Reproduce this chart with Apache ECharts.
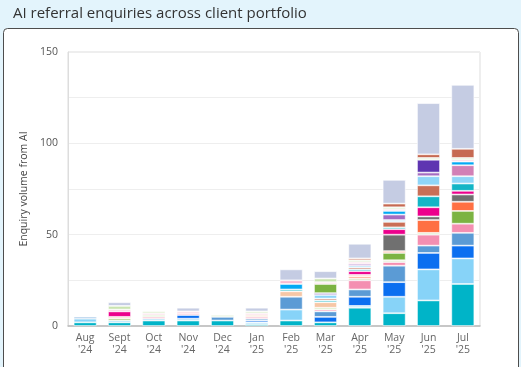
<!DOCTYPE html>
<html>
<head>
<meta charset="utf-8">
<script src="https://cdn.jsdelivr.net/npm/echarts@6/dist/echarts.min.js"></script>
<style>
html,body{margin:0;padding:0;background:#e3f4fc;}
#c{width:521px;height:367px;}
</style>
</head>
<body>
<div id="c"></div>
<script>
// Categories (months)
const months = ["Aug\n'24","Sept\n'24","Oct\n'24","Nov\n'24","Dec\n'24","Jan\n'25","Feb\n'25","Mar\n'25","Apr\n'25","May\n'25","Jun\n'25","Jul\n'25"];
const yTicks = [0, 50, 100, 150];

// Series values (Aug '24 .. Jul '25), stacked bottom to top
const teal    = [2,2,3,3,3,1,3,2,10,7,14,23];
const sky     = [2,1,1,1,0,1,6,0,1,9,17,14];
const royal   = [0,0,0,2,0,1,0,3,5,8,9,7];
const steel   = [1,0,0,0,2,1,7,3,4,9,4,7];
const pink    = [0,0,1,1,0,1,0,1,5,2,6,5];
const sage    = [0,0,1,0,0,0,0,1,1,1,1,0];
const green   = [0,1,0,0,0,0,0,0,0,4,0,7];
const orange  = [0,0,0,0,0,0,0,0,1,1,7,5];
const peach   = [0,1,0,0,0,1,3,3,1,0,0,0];
const grey    = [0,0,0,0,0,0,0,0,0,9,2,4];
const magenta = [0,3,0,0,0,0,0,0,2,3,5,2];
const teal2   = [0,0,0,0,0,0,1,1,1,1,6,4];
const brown   = [0,0,0,0,0,0,0,1,1,3,6,0];
const sky2    = [0,0,0,0,0,0,0,2,1,1,5,4];
const orchid  = [0,0,0,0,0,0,0,0,1,3,2,0];
const rose    = [0,0,0,0,0,0,0,0,0,0,0,6];
const purple  = [0,0,0,0,0,0,0,1,0,0,7,0];
const green2  = [0,0,0,0,0,0,0,5,0,0,0,0];
const azure   = [0,0,0,0,0,0,3,0,0,2,0,2];
const blush   = [0,1,1,1,0,1,2,1,1,1,0,1];
const mint    = [0,2,1,0,1,1,0,2,1,1,1,1];
const rust    = [0,0,0,0,0,0,0,0,1,2,2,5];
const other   = [0,2,0,2,0,2,6,4,8,13,28,35];

const seriesDefs = [
  ['Client 1', teal, '#00b4c8'],
  ['Client 2', sky, '#87d3f8'],
  ['Client 3', royal, '#0b6ff0'],
  ['Client 4', steel, '#5b9bd5'],
  ['Client 5', pink, '#f48fb1'],
  ['Client 6', sage, '#c5e1a5'],
  ['Client 7', green, '#7cb342'],
  ['Client 8', orange, '#ff7043'],
  ['Client 9', peach, '#f6c7a6'],
  ['Client 10', grey, '#707070'],
  ['Client 11', magenta, '#ec008c'],
  ['Client 12', teal2, '#13b5c6'],
  ['Client 13', brown, '#c96f57'],
  ['Client 14', sky2, '#8fd5f8'],
  ['Client 15', orchid, '#a56cc1'],
  ['Client 16', rose, '#d280b6'],
  ['Client 17', purple, '#5e35b1'],
  ['Client 18', green2, '#7cb342'],
  ['Client 19', azure, '#03a9f4'],
  ['Client 20', blush, '#f8bbd0'],
  ['Client 21', mint, '#c9e4b0'],
  ['Client 22', rust, '#c66a52'],
  ['Other', other, '#c5cce3']
];

const chart = echarts.init(document.getElementById('c'), null, {renderer: 'canvas'});
const font = '"Open Sans", "DejaVu Sans", sans-serif';

chart.setOption({
  backgroundColor: '#e3f4fc',
  animation: false,
  textStyle: {fontFamily: font},
  title: {
    text: 'AI referral enquiries across client portfolio',
    left: 8, top: 1,
    textStyle: {fontFamily: font, fontSize: 15, fontWeight: 'normal', color: '#333'}
  },
  graphic: [{
    type: 'rect', z: -10, silent: true,
    shape: {x: 3.5, y: 28.5, width: 515, height: 360, r: 4},
    style: {fill: '#ffffff', stroke: '#4d4d4d', lineWidth: 1}
  }],
  grid: {left: 68, right: 41, top: 52, bottom: 41, show: true, borderColor: '#ddd', borderWidth: 1, backgroundColor: 'transparent'},
  xAxis: {
    type: 'category',
    data: months,
    axisLine: {lineStyle: {color: '#bbb', width: 1.5}},
    axisTick: {show: false},
    axisLabel: {color: '#666', fontSize: 10.5, lineHeight: 12, margin: 6, fontFamily: font}
  },
  yAxis: {
    type: 'value',
    min: 0, max: 150, interval: 25,
    name: 'Enquiry volume from AI',
    nameLocation: 'middle',
    nameGap: 38,
    nameTextStyle: {color: '#444', fontSize: 10.5, fontFamily: font},
    axisLine: {show: true, lineStyle: {color: '#ddd'}},
    axisTick: {show: false},
    splitLine: {lineStyle: {color: '#eee'}},
    axisLabel: {
      color: '#555', fontSize: 10.5, margin: 10, fontFamily: font,
      formatter: v => yTicks.includes(v) ? String(v) : ''
    }
  },
  series: seriesDefs.map(([name, vals, color]) => ({
    name, type: 'bar', stack: 'total', barWidth: 23,
    data: vals.map(v => v === 0 ? null : v),
    itemStyle: {color, borderColor: 'rgba(255,255,255,0.75)', borderWidth: 0.8}
  }))
});
</script>
</body>
</html>
